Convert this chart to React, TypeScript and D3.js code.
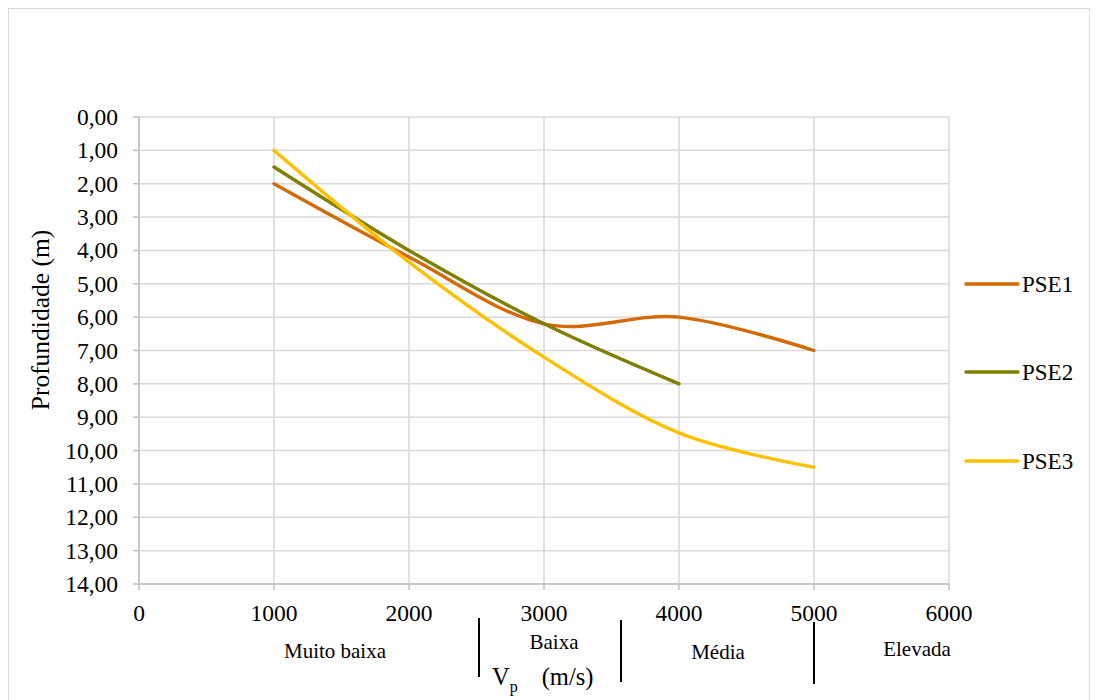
import React from "react";
import * as d3 from "d3";

const xTicks = [0, 1000, 2000, 3000, 4000, 5000, 6000];
const yTicks = [0, 1, 2, 3, 4, 5, 6, 7, 8, 9, 10, 11, 12, 13, 14];

const pse1X = [1000, 2000, 3000, 4000, 5000];
const pse1Y = [2, 4.2, 6.2, 6.0, 7.0];
const pse2X = [1000, 2000, 3000, 4000];
const pse2Y = [1.5, 4.0, 6.2, 8.0];
const pse3X = [1000, 2000, 3000, 4000, 5000];
const pse3Y = [1.0, 4.35, 7.2, 9.47, 10.5];

const seriesNames = ["PSE1", "PSE2", "PSE3"];
const seriesColors = ["#d46a06", "#7f7f00", "#ffc000"];

const categories = ["Muito baixa", "Baixa", "Média", "Elevada"];

const FONT = "'Liberation Serif', 'Times New Roman', serif";

export default function App() {
  const W = 1098, H = 700;
  const x = d3.scaleLinear().domain([0, 6000]).range([139, 949]);
  const y = d3.scaleLinear().domain([0, 14]).range([117, 584]);
  const line = d3
    .line<[number, number]>()
    .x((d) => x(d[0]))
    .y((d) => y(d[1]))
    .curve(d3.curveCatmullRom.alpha(0));
  const series = [
    pse1X.map((v, i) => [v, pse1Y[i]] as [number, number]),
    pse2X.map((v, i) => [v, pse2Y[i]] as [number, number]),
    pse3X.map((v, i) => [v, pse3Y[i]] as [number, number]),
  ];
  const fmt = (v: number) => v.toFixed(2).replace(".", ",");
  const legendY = [284, 372, 461];
  const catPos = [
    { x: 335, y: 658 },
    { x: 554, y: 649 },
    { x: 718, y: 659 },
    { x: 917, y: 656 },
  ];
  const dividers = [
    { x: 479, y1: 618, y2: 677 },
    { x: 621, y1: 620, y2: 682 },
    { x: 814, y1: 622, y2: 684 },
  ];
  const ts = { fontFamily: FONT };
  return (
    <svg
      width={W}
      height={H}
      style={{ position: "absolute", left: 0, top: 0 }}
    >
      <rect x={0} y={0} width={W} height={H} fill="#fff" />
      <rect x={8.5} y={8.5} width={1081} height={720} fill="none" stroke="#d9d9d9" />
      {yTicks.map((t) => (
        <line key={"gy" + t} x1={139} x2={949} y1={y(t)} y2={y(t)} stroke="#d9d9d9" strokeWidth={1.5} />
      ))}
      {xTicks.map((t) => (
        <line key={"gx" + t} x1={x(t)} x2={x(t)} y1={117} y2={584} stroke="#d9d9d9" strokeWidth={1.5} />
      ))}
      <line x1={139} x2={139} y1={117} y2={584} stroke="#bfbfbf" strokeWidth={1.5} />
      <line x1={139} x2={949} y1={584} y2={584} stroke="#bfbfbf" strokeWidth={1.5} />
      {yTicks.map((t) => (
        <line key={"ty" + t} x1={133} x2={139} y1={y(t)} y2={y(t)} stroke="#bfbfbf" strokeWidth={1.5} />
      ))}
      {xTicks.map((t) => (
        <line key={"tx" + t} x1={x(t)} x2={x(t)} y1={584} y2={590} stroke="#bfbfbf" strokeWidth={1.5} />
      ))}
      <g fill="#000">
        {yTicks.map((t) => (
          <text key={"ly" + t} style={ts} x={118} y={y(t) + 8} textAnchor="end" fontSize={23.5}>
            {fmt(t)}
          </text>
        ))}
        {xTicks.map((t) => (
          <text key={"lx" + t} style={ts} x={x(t)} y={621} textAnchor="middle" fontSize={23.5}>
            {t}
          </text>
        ))}
        <text style={ts} transform={`translate(49,320) rotate(-90)`} textAnchor="middle" fontSize={25.5}>
          Profundidade (m)
        </text>
        {seriesNames.map((n, i) => (
          <text key={"lt" + i} style={ts} x={1022} y={legendY[i] + 8} fontSize={23}>
            {n}
          </text>
        ))}
        {categories.map((c, i) => (
          <text key={"c" + i} style={ts} x={catPos[i].x} y={catPos[i].y} textAnchor="middle" fontSize={21}>
            {c}
          </text>
        ))}
        <text style={ts} x={492} y={685} fontSize={24.5}>
          V<tspan fontSize={16} dy={7}>p</tspan>
          <tspan dy={-7} dx={24}>(m/s)</tspan>
        </text>
      </g>
      {series.map((s, i) => (
        <path
          key={"s" + i}
          d={line(s) || ""}
          fill="none"
          stroke={seriesColors[i]}
          strokeWidth={3.4}
          strokeLinecap="round"
        />
      ))}
      {seriesNames.map((n, i) => (
        <line key={"lg" + i} x1={966} x2={1018} y1={legendY[i]} y2={legendY[i]} stroke={seriesColors[i]} strokeWidth={3.4} strokeLinecap="round" />
      ))}
      {dividers.map((d, i) => (
        <line key={"d" + i} x1={d.x} x2={d.x} y1={d.y1} y2={d.y2} stroke="#000" strokeWidth={2} />
      ))}
    </svg>
  );
}
